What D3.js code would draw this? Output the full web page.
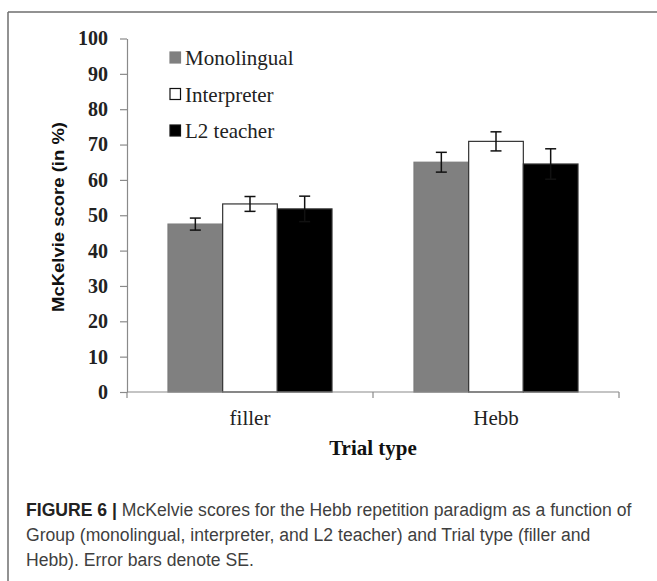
<!DOCTYPE html>
<html>
<head>
<meta charset="utf-8">
<script src="https://cdn.jsdelivr.net/npm/d3@7"></script>
<style>
  body { margin: 0; background: #fff; }
  svg { display: block; }
</style>
</head>
<body>
<div id="chart"></div>
<script>

// data
var categories = ["filler", "Hebb"];
var groups = ["Monolingual", "Interpreter", "L2 teacher"];
var monoMeans = [47.5, 65.0];
var interpMeans = [53.2, 70.9];
var teacherMeans = [51.8, 64.5];
var monoSE = [1.7, 2.8];
var interpSE = [2.1, 2.7];
var teacherSE = [3.6, 4.3];
var yTicks = [0, 10, 20, 30, 40, 50, 60, 70, 80, 90, 100];
var colors = ["#808080", "#ffffff", "#000000"];

var captionLines = [
    "McKelvie scores for the Hebb repetition paradigm as a function of",
    "Group (monolingual, interpreter, and L2 teacher) and Trial type (filler and",
    "Hebb). Error bars denote SE."
];

function draw(){

    var width = 657, height = 581;

    var svg = d3.select('#chart')
        .append('svg')
        .attr('width', width)
        .attr('height', height);

    svg.append('rect')
        .attr('width', width)
        .attr('height', height)
        .attr('fill', '#fff');

    //outer frame: top and left edges only are visible
    svg.append('line')
        .attr('x1', 8).attr('x2', width).attr('y1', 12).attr('y2', 12)
        .attr('stroke', '#6e6e6e').attr('stroke-width', 1.5);
    svg.append('line')
        .attr('x1', 8).attr('x2', 8).attr('y1', 12).attr('y2', height)
        .attr('stroke', '#6e6e6e').attr('stroke-width', 1.5);

    var means = [monoMeans, interpMeans, teacherMeans],
        ses = [monoSE, interpSE, teacherSE];

    var rows = [];
    categories.forEach(function(c, i){
        groups.forEach(function(g, j){
            rows.push({cat: c, group: g, gi: j, mean: means[j][i], se: ses[j][i]});
        });
    });

    var y = d3.scaleLinear().domain([0, 100]).range([392, 38.5]);
    var x0 = d3.scaleBand().domain(categories).range([127, 619]);
    var x1 = d3.scaleBand().domain(groups)
        .range([0, x0.bandwidth()])
        .paddingInner(0)
        .paddingOuter(0.75);

    //y axis
    var yAxis = svg.append('g')
        .attr('transform', 'translate(127,0)')
        .call(d3.axisLeft(y).tickValues(yTicks).tickSize(7).tickSizeOuter(0).tickPadding(12));
    yAxis.select('.domain').attr('stroke', '#8a8a8a').attr('stroke-width', 1.2);
    yAxis.selectAll('.tick line').attr('stroke', '#8a8a8a').attr('stroke-width', 1.2);
    yAxis.selectAll('.tick text')
        .attr('font-family', '"Liberation Serif", "Times New Roman", serif')
        .attr('font-weight', 'bold')
        .attr('font-size', 20)
        .attr('fill', '#222');

    //bars
    svg.selectAll('.bar')
        .data(rows)
        .enter()
        .append('rect')
        .attr('class', 'bar')
        .attr('x', function(d){ return x0(d.cat) + x1(d.group); })
        .attr('y', function(d){ return y(d.mean); })
        .attr('width', x1.bandwidth())
        .attr('height', function(d){ return y(0) - y(d.mean); })
        .attr('fill', function(d){ return colors[d.gi]; })
        .attr('stroke', function(d){ return d.gi === 0 ? '#7a7a7a' : '#333'; })
        .attr('stroke-width', 1.2);

    //error bars
    var err = svg.selectAll('.err')
        .data(rows)
        .enter()
        .append('g')
        .attr('class', 'err')
        .attr('stroke', '#111')
        .attr('stroke-width', 1.5);
    var cx = function(d){ return x0(d.cat) + x1(d.group) + x1.bandwidth() / 2; };
    err.append('line')
        .attr('x1', cx).attr('x2', cx)
        .attr('y1', function(d){ return y(d.mean + d.se); })
        .attr('y2', function(d){ return y(d.mean - d.se); });
    err.append('line')
        .attr('x1', function(d){ return cx(d) - 5.5; })
        .attr('x2', function(d){ return cx(d) + 5.5; })
        .attr('y1', function(d){ return y(d.mean + d.se); })
        .attr('y2', function(d){ return y(d.mean + d.se); });
    err.append('line')
        .attr('x1', function(d){ return cx(d) - 5.5; })
        .attr('x2', function(d){ return cx(d) + 5.5; })
        .attr('y1', function(d){ return y(d.mean - d.se); })
        .attr('y2', function(d){ return y(d.mean - d.se); });

    //x axis: domain line, ticks at band edges, labels at band centres
    var xAxis = svg.append('g').attr('class', 'xaxis');
    xAxis.append('line')
        .attr('x1', x0.range()[0]).attr('x2', x0.range()[1])
        .attr('y1', y(0)).attr('y2', y(0))
        .attr('stroke', '#8a8a8a').attr('stroke-width', 1.2);
    var edges = categories.map(function(c){ return x0(c); }).concat([x0.range()[1]]);
    xAxis.selectAll('.xtick')
        .data(edges)
        .enter()
        .append('line')
        .attr('x1', function(d){ return d; }).attr('x2', function(d){ return d; })
        .attr('y1', y(0)).attr('y2', y(0) + 6)
        .attr('stroke', '#8a8a8a').attr('stroke-width', 1.2);
    xAxis.selectAll('.xlabel')
        .data(categories)
        .enter()
        .append('text')
        .attr('x', function(d){ return x0(d) + x0.bandwidth() / 2; })
        .attr('y', 425)
        .attr('text-anchor', 'middle')
        .attr('font-family', '"Liberation Serif", "Times New Roman", serif')
        .attr('font-size', 21)
        .attr('fill', '#222')
        .text(function(d){ return d; });

    //axis titles
    svg.append('text')
        .attr('x', 373)
        .attr('y', 455)
        .attr('text-anchor', 'middle')
        .attr('font-family', '"Liberation Serif", "Times New Roman", serif')
        .attr('font-weight', 'bold')
        .attr('font-size', 21)
        .attr('fill', '#111')
        .text('Trial type');

    svg.append('text')
        .attr('transform', 'translate(64,217) rotate(-90)')
        .attr('text-anchor', 'middle')
        .attr('font-family', '"Liberation Sans", Arial, sans-serif')
        .attr('font-weight', 'bold')
        .attr('font-size', 17)
        .attr('textLength', 190)
        .attr('lengthAdjust', 'spacingAndGlyphs')
        .attr('fill', '#111')
        .text('McKelvie score (in %)');

    //legend
    var legend = svg.selectAll('.legend')
        .data(groups)
        .enter()
        .append('g')
        .attr('class', 'legend')
        .attr('transform', function(d, i){ return 'translate(170,' + (52 + i * 36.5) + ')'; });
    legend.append('rect')
        .attr('width', 10.5).attr('height', 11)
        .attr('fill', function(d, i){ return colors[i]; })
        .attr('stroke', function(d, i){ return i === 0 ? '#808080' : '#111'; })
        .attr('stroke-width', 1.2);
    legend.append('text')
        .attr('x', 15)
        .attr('y', 13)
        .attr('font-family', '"Liberation Serif", "Times New Roman", serif')
        .attr('font-size', 21)
        .attr('fill', '#222')
        .text(function(d){ return d; });

    //caption
    var cap = svg.append('g')
        .attr('font-family', '"Liberation Sans", Arial, sans-serif')
        .attr('font-size', 17.6)
        .attr('fill', '#3f3f3f');
    captionLines.forEach(function(line, i){
        var t = cap.append('text')
            .attr('x', 26)
            .attr('y', 516 + i * 25);
        if (i === 0) {
            t.append('tspan').attr('font-weight', 'bold').attr('fill', '#222').text('FIGURE 6 | ');
        }
        t.append('tspan').text(line);
    });
}

window.onload = draw;
</script>
</body>
</html>
